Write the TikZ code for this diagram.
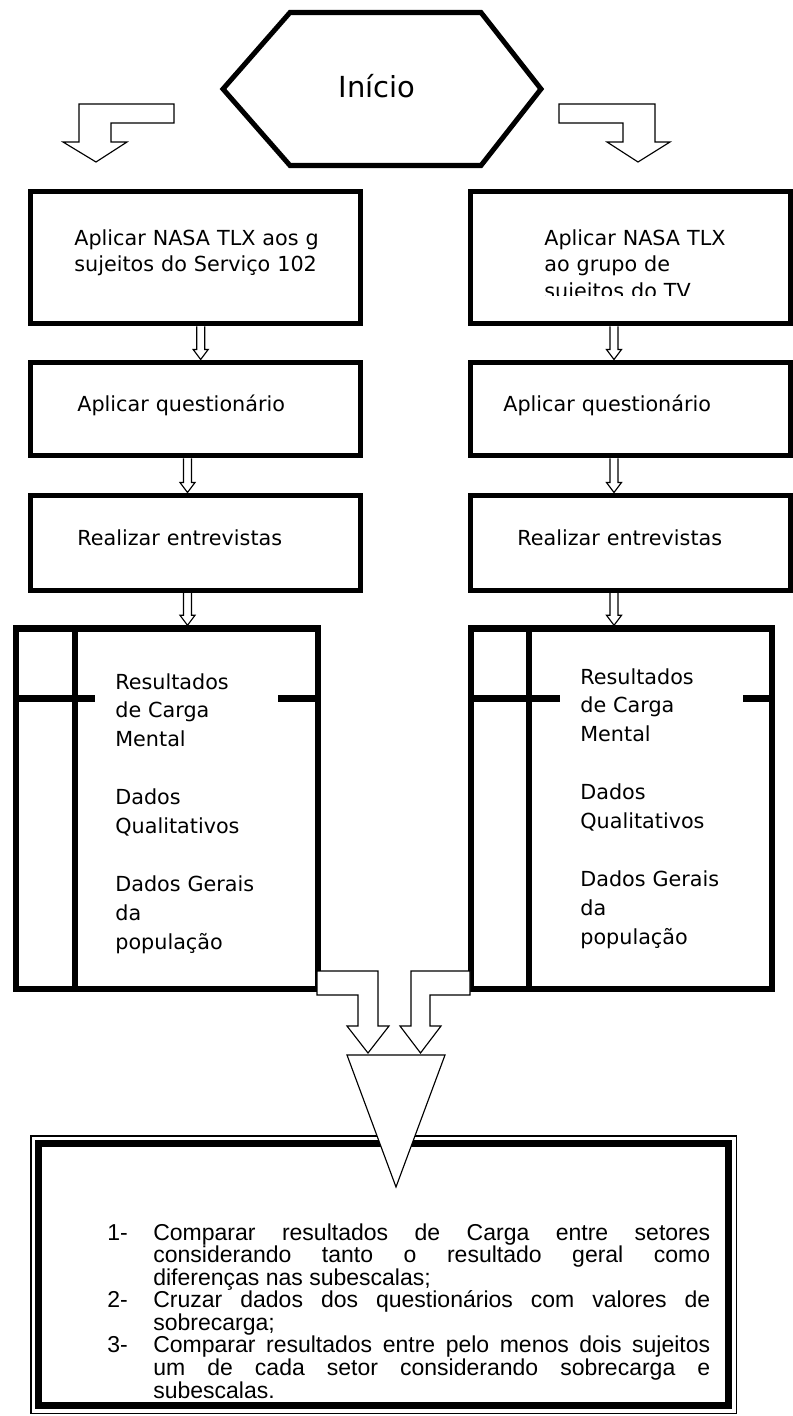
\documentclass[tikz,border=0pt]{standalone}
\usepackage{fontspec}
\setmainfont{DejaVu Sans}
\newfontfamily\arialfont{Liberation Sans}
\usetikzlibrary{calc}

\tikzset{
    stepbox/.style={draw, line width=2.85pt, inner sep=0pt},
    steptext/.style={anchor=base west, inner sep=0pt, text width=6cm, align=left, font=\fontsize{11.8pt}{15.36pt}\selectfont},
    resultbox/.style={draw, line width=3.7pt, inner sep=0pt},
    resulttext/.style={anchor=base west, fill=white, inner xsep=0.4cm, inner ysep=4pt, text width=2.85cm, align=left, font=\fontsize{11.8pt}{16.5pt}\selectfont},
    hollow/.style={draw, fill=white, line width=0.65pt, line join=miter},
}

\newcommand{\flowarrow}[3]{%
    \path (#1 |- #2.south) coordinate (fa-s) (#1 |- #3.north) coordinate (fa-e);
    \draw[hollow] ($(fa-s)+(-4,0)$) -- ($(fa-e)+(-4,-10)$) -- ($(fa-e)+(-7.5,-10)$) -- (fa-e)
        -- ($(fa-e)+(7.5,-10)$) -- ($(fa-e)+(4,-10)$) -- ($(fa-s)+(4,0)$);
}
\newcommand{\stepitem}[2]{\hangindent=0.92cm\hangafter=1\noindent\makebox[0.92cm][l]{#1}#2\par}

\begin{document}
\begin{tikzpicture}[x=0.02cm, y=-0.02cm]
    \useasboundingbox (0,0) rectangle (793,1416);

    % start
    \draw[line width=2.85pt, line join=miter] (223,89) -- (290,12.5) -- (481,12.5) -- (541,89) -- (481,165.5) -- (290,165.5) -- cycle;
    \node[anchor=base, inner sep=0pt, font=\fontsize{16.5pt}{20pt}\selectfont] (start) at (377,98) {Início};

    \draw[hollow] (174,104) -- (79,104) -- (79,142) -- (63,142) -- (96,162) -- (127,142) -- (111,142) -- (111,123) -- (174,123) -- cycle;
    \draw[hollow] (559,104) -- (655,104) -- (655,142) -- (670,142) -- (638,162) -- (607,142) -- (623,142) -- (623,123) -- (559,123) -- cycle;

    % left column
    \node[stepbox, minimum width=6.61cm, minimum height=2.66cm] (tlxL) at (195.25,257.5) {};
    \node[stepbox, minimum width=6.61cm, minimum height=1.88cm] (questL) at (195.25,409) {};
    \node[stepbox, minimum width=6.61cm, minimum height=1.91cm] (interL) at (195.25,542.75) {};
    \node[steptext] (tlxLtext) at (74,245) {Aplicar NASA TLX aos g\\sujeitos do Serviço 102};
    \node[steptext] (questLtext) at (77,411) {Aplicar questionário};
    \node[steptext] (interLtext) at (77,545) {Realizar entrevistas};

    % right column
    \node[stepbox, minimum width=6.42cm, minimum height=2.66cm] (tlxR) at (630.5,257.5) {};
    \node[stepbox, minimum width=6.42cm, minimum height=1.88cm] (questR) at (630.5,409) {};
    \node[stepbox, minimum width=6.42cm, minimum height=1.91cm] (interR) at (630.5,542.75) {};
    \begin{scope}
        \clip (460,0) rectangle (793,295);
        \node[steptext] (tlxRtext) at (544,245) {Aplicar NASA TLX\\ao grupo de\\sujeitos do TV};
    \end{scope}
    \node[steptext] (questRtext) at (503,411) {Aplicar questionário};
    \node[steptext] (interRtext) at (517,545) {Realizar entrevistas};

    % results
    \node[resultbox, minimum width=6.04cm, minimum height=7.21cm] (resL) at (167,808.75) {};
    \node[resultbox, minimum width=6.02cm, minimum height=7.21cm] (resR) at (621.5,808.75) {};
    \draw[line width=3.7pt] (75,628.5) -- (75,989) (16,698.5) -- (318,698.5);
    \draw[line width=3.7pt] (529,628.5) -- (529,989) (471,698.5) -- (772,698.5);
    \node[resulttext] (resLtext) at (95,689) {Resultados\\de Carga\\Mental\\[16.5pt]Dados\\Qualitativos\\[16.5pt]Dados Gerais\\da\\população};
    \node[resulttext] (resRtext) at (560,684) {Resultados\\de Carga\\Mental\\[16.5pt]Dados\\Qualitativos\\[16.5pt]Dados Gerais\\da\\população};

    \coordinate (colA) at (200.7,0);
    \coordinate (colL) at (187.5,0);
    \coordinate (colR) at (614,0);
    \flowarrow{colA}{tlxL}{questL}
    \flowarrow{colL}{questL}{interL}
    \flowarrow{colL}{interL}{resL}
    \flowarrow{colR}{tlxR}{questR}
    \flowarrow{colR}{questR}{interR}
    \flowarrow{colR}{interR}{resR}

    \draw[hollow] (317,971) -- (378,971) -- (378,1026) -- (389,1026) -- (368,1053) -- (347,1026) -- (358,1026) -- (358,995) -- (317,995) -- cycle;
    \draw[hollow] (470,971) -- (411,971) -- (411,1026) -- (400,1026) -- (420.5,1053) -- (441,1026) -- (430,1026) -- (430,995) -- (470,995) -- cycle;

    % comparison
    \node[draw, line width=3.98pt, inner sep=0pt, minimum width=13.81cm, minimum height=5.25cm] (compare) at (383.75,1274.75) {};
    \draw[line width=0.7pt] ($(compare.north west)+(-4,-4)$) rectangle ($(compare.south east)+(4,4)$);
    \node[anchor=base west, inner sep=0pt, text width=12.06cm, align=justify, font=\arialfont\fontsize{13.09pt}{12.85pt}\selectfont] (comparetext) at (107,1240) {%
        \lineskiplimit=-\maxdimen\tolerance=10000\hbadness=10000
        \stepitem{1-}{Comparar resultados de Carga entre setores\linebreak considerando tanto o resultado geral como\linebreak diferenças nas subescalas;}
        \stepitem{2-}{Cruzar dados dos questionários com valores de\linebreak sobrecarga;}
        \stepitem{3-}{Comparar resultados entre pelo menos dois sujeitos\linebreak um de cada setor considerando sobrecarga e\linebreak subescalas.}};

    \draw[hollow] (347,1055) -- (445,1055) -- (396,1187) -- cycle;
\end{tikzpicture}
\end{document}
